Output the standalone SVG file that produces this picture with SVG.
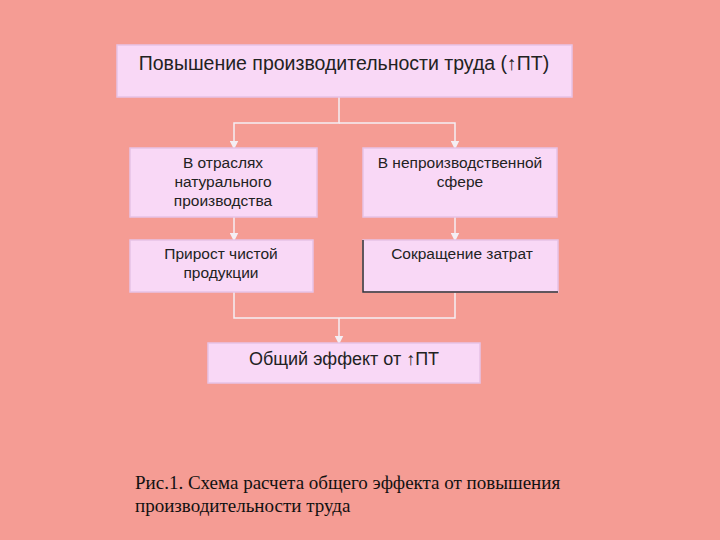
<svg xmlns="http://www.w3.org/2000/svg" width="720" height="540" viewBox="0 0 720 540">
<defs>
<marker id="ah" markerWidth="6" markerHeight="6" refX="5" refY="3" orient="auto"><path d="M0,0 L6,3 L0,6 z" fill="#f4eef4"/></marker>
</defs>
<style>
.box{fill:#f9d8f6;stroke:#e6c2e6;stroke-width:1.5}
.t{font-family:"Liberation Sans",Arial,sans-serif;font-size:15.5px;fill:#222;text-anchor:middle}
.c{fill:none;stroke:#f4eef4;stroke-width:1.5}
.cap{font-family:"Liberation Serif","Times New Roman",serif;font-size:19px;fill:#111}
</style>
<rect width="720" height="540" fill="#f59c94"/>
<g id="connectors">
<path class="c" d="M339,97 V123 H234 V148" marker-end="url(#ah)"/>
<path class="c" d="M339,123 H455 V148" marker-end="url(#ah)"/>
<path class="c" d="M234,217 V240" marker-end="url(#ah)"/>
<path class="c" d="M455,217 V240" marker-end="url(#ah)"/>
<path class="c" d="M234,292 V318 H455 V292"/>
<path class="c" d="M339,318 V343" marker-end="url(#ah)"/>
</g>
<g id="n1"><rect class="box" x="117" y="45" width="455" height="52"/><text class="t" x="344" y="70" style="font-size:19.5px">Повышение производительности труда (↑ПТ)</text></g>
<g id="n2"><rect class="box" x="130" y="148" width="187" height="69"/><text class="t" x="223" y="168">В отраслях</text><text class="t" x="223" y="187">натурального</text><text class="t" x="223" y="206">производства</text></g>
<g id="n3"><rect class="box" x="363" y="148" width="194" height="69"/><text class="t" x="460" y="168">В непроизводственной</text><text class="t" x="460" y="187">сфере</text></g>
<g id="n4"><rect class="box" x="130" y="240" width="183" height="52"/><text class="t" x="221" y="259">Прирост чистой</text><text class="t" x="221" y="278">продукции</text></g>
<g id="n5"><rect class="box" x="363" y="240" width="195" height="52"/><path d="M363,240 V292 H558" stroke="#333" stroke-width="1.5" fill="none"/><text class="t" x="462" y="259">Сокращение  затрат</text></g>
<g id="n6"><rect class="box" x="208" y="343" width="272" height="40"/><text class="t" x="344" y="365" style="font-size:18px">Общий эффект от ↑ПТ</text></g>
<text class="cap" x="135" y="489">Рис.1. Схема расчета общего эффекта от повышения</text>
<text class="cap" x="135" y="512">производительности труда</text>
</svg>
